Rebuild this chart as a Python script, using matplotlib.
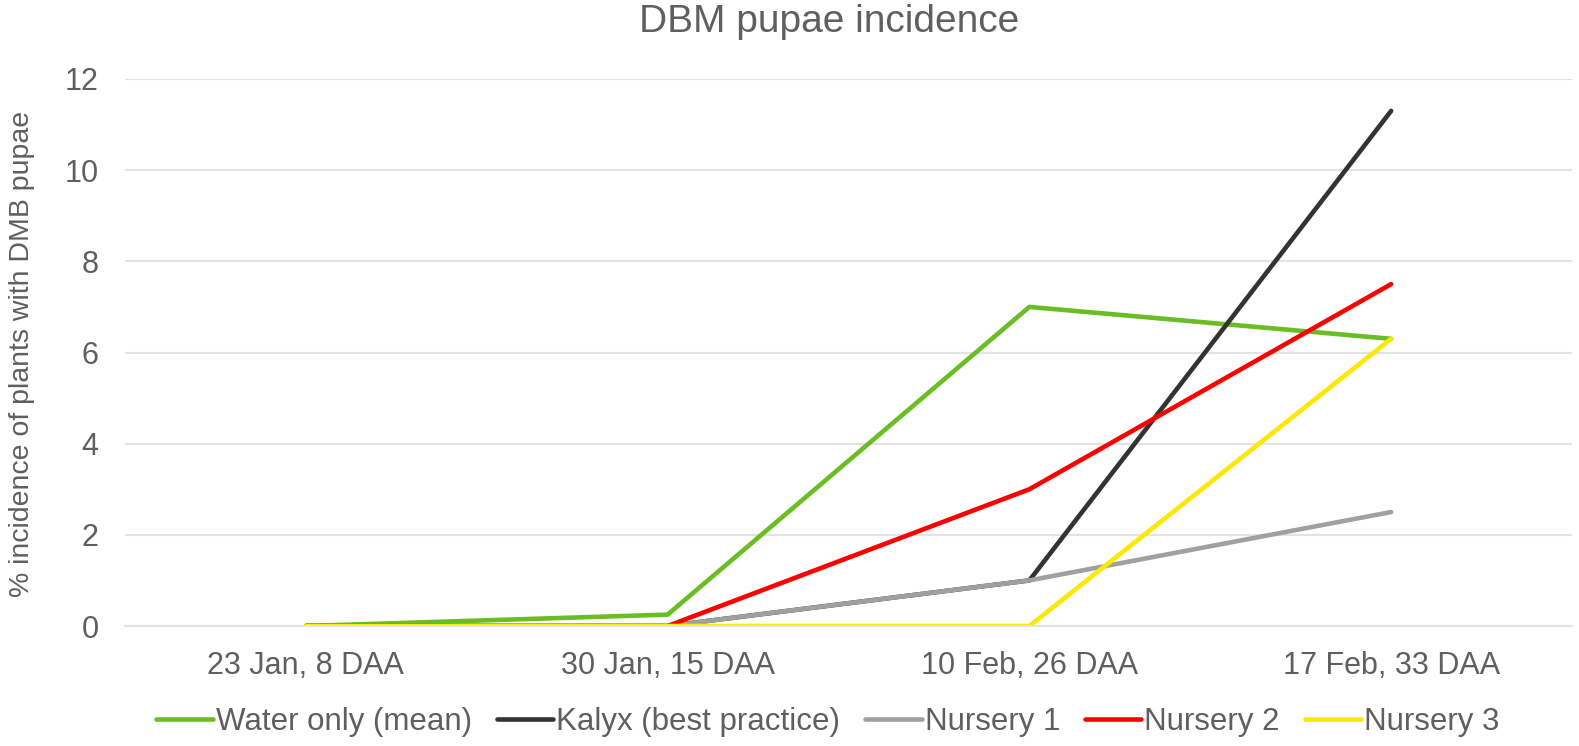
import numpy as np
import matplotlib
matplotlib.use("Agg")
import matplotlib.pyplot as plt

# podaci
kategorije = ["23 Jan, 8 DAA", "30 Jan, 15 DAA", "10 Feb, 26 DAA", "17 Feb, 33 DAA"]
water = [0.0, 0.25, 7.0, 6.3]
kalyx = [0.0, 0.0, 1.0, 11.3]
nursery1 = [0.0, 0.0, 1.0, 2.5]
nursery2 = [0.0, 0.0, 3.0, 7.5]
nursery3 = [0.0, 0.0, 0.0, 6.3]
nazivi = ["Water only (mean)", "Kalyx (best practice)", "Nursery 1", "Nursery 2", "Nursery 3"]
boje = ["#6BBD25", "#333333", "#A0A0A0", "#FF0000", "#FFE800"]

plt.rcParams["font.family"] = ["Liberation Sans", "DejaVu Sans"]

siva = "#5F5F5F"
fig = plt.figure(figsize=(15.79, 7.46), dpi=100)
ax = fig.add_axes([125/1579, 1-626/746, 1447/1579, 547/746])

x = np.arange(len(kategorije))
for niz, naziv, boja in zip([water, kalyx, nursery1, nursery2, nursery3], nazivi, boje):
    ax.plot(x, niz, color=boja, lw=3.3, label=naziv, solid_capstyle="round", solid_joinstyle="round")

ax.set_xlim(-0.5, 3.5)
ax.set_ylim(0, 12)
ax.set_yticks(np.arange(0, 13, 2))
ax.set_xticks(x)
ax.set_xticklabels(kategorije)
ax.grid(axis="y", color="#E3E3E3", lw=1.5)
ax.set_axisbelow(True)
for s in ["top", "right", "left"]:
    ax.spines[s].set_visible(False)
ax.spines["bottom"].set_color("#E3E3E3")
ax.spines["bottom"].set_linewidth(1.5)
ax.tick_params(axis="both", length=0, labelsize=22, labelcolor=siva)
ax.tick_params(axis="y", pad=19)
ax.tick_params(axis="x", pad=18)

fig.text(829/1579, 1-22/746, "DBM pupae incidence", ha="center", va="center", fontsize=28, color=siva)
fig.text(22/1579, 1-354/746, "% incidence of plants with DMB pupae", rotation=90,
         ha="center", va="center", fontsize=20.5, color=siva)

leg = fig.legend(loc="center", bbox_to_anchor=(828/1579, 1-722/746), ncol=5, frameon=False,
                 prop={"size": 22.5}, handlelength=1.8, handletextpad=0.1,
                 columnspacing=0.8, borderaxespad=0)
for t in leg.get_texts():
    t.set_color(siva)

fig.savefig("out.png", dpi=100)
